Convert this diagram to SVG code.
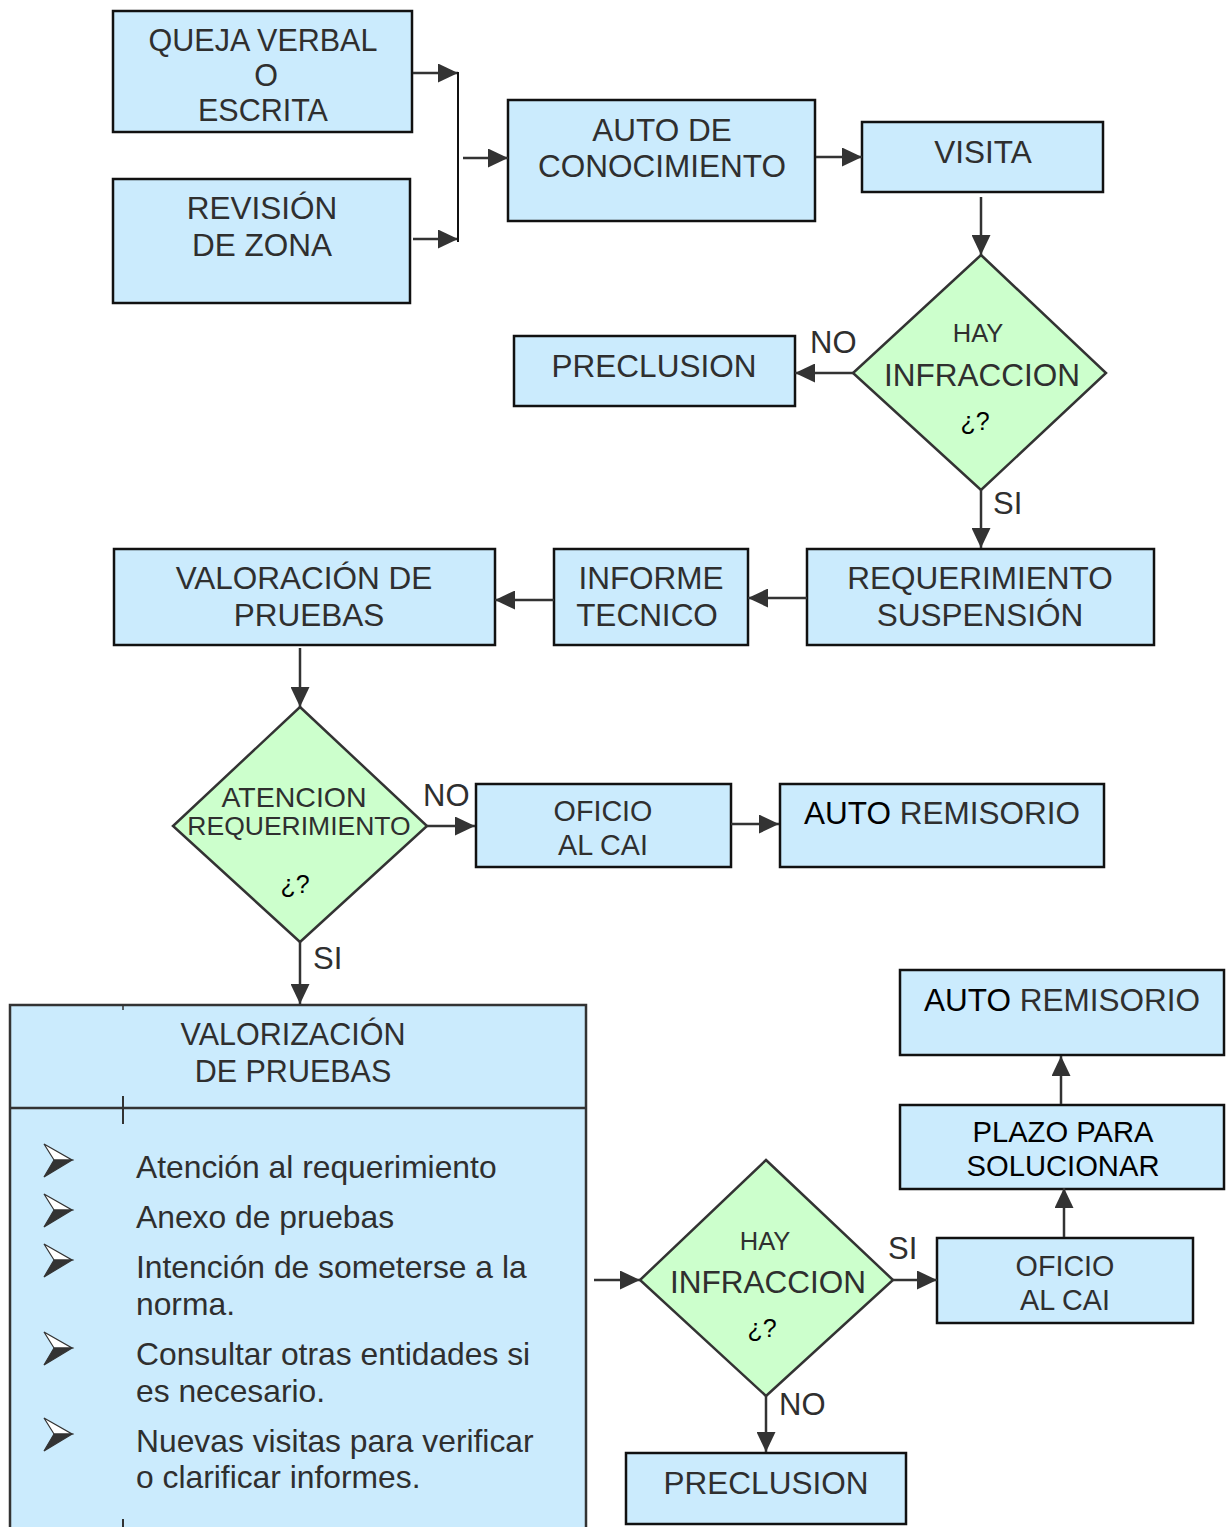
<svg xmlns="http://www.w3.org/2000/svg" width="1229" height="1527" viewBox="0 0 1229 1527">
<style>
.box{fill:#cbebfd;stroke:#111;stroke-width:2.5}
.big{fill:#cbebfd;stroke:#333;stroke-width:2.5}
.dia{fill:#ccffcc;stroke:#333;stroke-width:2.5}
.t{font-family:"Liberation Sans",Arial,sans-serif;fill:#2f2f2f;text-anchor:middle}
.l{font-family:"Liberation Sans",Arial,sans-serif;fill:#2f2f2f;font-size:31.8px}
.lbl{font-family:"Liberation Sans",Arial,sans-serif;fill:#2f2f2f;font-size:31px}
.k{fill:#000}
.c line,.c path{stroke:#333;stroke-width:2.5;fill:none}
</style>
<defs>
<marker id="ah" viewBox="0 0 20 19" refX="20" refY="9.5" markerWidth="20" markerHeight="19" markerUnits="userSpaceOnUse" orient="auto">
<path d="M0,0 L20,9.5 L0,19 z" fill="#333"/>
</marker>
<g id="bul">
<path d="M0,0 L28,16 L10,16 z" fill="#fff" stroke="#333" stroke-width="1.2"/>
<path d="M10,16 L28,16 L0,33 z" fill="#333" stroke="#333" stroke-width="1.2"/>
</g>
</defs>

<g id="n-queja">
<rect class="box" x="113" y="11" width="299" height="121"/>
<text class="t" font-size="30.5" x="263" y="51">QUEJA VERBAL</text>
<text class="t" font-size="30.5" x="266" y="86">O</text>
<text class="t" font-size="30.5" x="263" y="121">ESCRITA</text>
</g>
<g id="n-revision">
<rect class="box" x="113" y="179" width="297" height="124"/>
<text class="t" font-size="31.5" x="262" y="219">REVISIÓN</text>
<text class="t" font-size="31.5" x="262" y="256">DE ZONA</text>
</g>
<g id="n-auto-con">
<rect class="box" x="508" y="100" width="307" height="121"/>
<text class="t" font-size="31.5" x="662" y="141">AUTO DE</text>
<text class="t" font-size="31.5" x="662" y="177">CONOCIMIENTO</text>
</g>
<g id="n-visita">
<rect class="box" x="862" y="122" width="241" height="70"/>
<text class="t" font-size="31.5" x="983" y="163">VISITA</text>
</g>
<g id="n-hay1">
<polygon class="dia" points="981,255 1106,373 981,490 853,373"/>
<text class="t" font-size="25.5" x="978" y="342">HAY</text>
<text class="t" font-size="31.5" x="982" y="386">INFRACCION</text>
<text class="t k" font-size="25" x="975" y="430">¿?</text>
</g>
<g id="n-preclusion1">
<rect class="box" x="514" y="336" width="281" height="70"/>
<text class="t" font-size="31.5" x="654" y="377">PRECLUSION</text>
</g>
<g id="n-reqsusp">
<rect class="box" x="807" y="549" width="347" height="96"/>
<text class="t" font-size="31.5" x="980" y="589">REQUERIMIENTO</text>
<text class="t" font-size="31.5" x="980" y="626">SUSPENSIÓN</text>
</g>
<g id="n-informe">
<rect class="box" x="554" y="549" width="194" height="96"/>
<text class="t" font-size="31.5" x="651" y="589">INFORME</text>
<text class="t" font-size="31.5" x="647" y="626">TECNICO</text>
</g>
<g id="n-valoracion">
<rect class="box" x="114" y="549" width="381" height="96"/>
<text class="t" font-size="31.5" x="304" y="589">VALORACIÓN DE</text>
<text class="t" font-size="31.5" x="309" y="626">PRUEBAS</text>
</g>
<g id="n-atencion">
<polygon class="dia" points="300,707 427,826 300,942 173,826"/>
<text class="t" font-size="28.5" x="294" y="807">ATENCION</text>
<text class="t" font-size="26.5" x="299" y="835">REQUERIMIENTO</text>
<text class="t k" font-size="25" x="295" y="893">¿?</text>
</g>
<g id="n-oficio1">
<rect class="box" x="476" y="784" width="255" height="83"/>
<text class="t" font-size="28.7" x="603" y="821">OFICIO</text>
<text class="t" font-size="28.7" x="603" y="855">AL CAI</text>
</g>
<g id="n-remisorio1">
<rect class="box" x="780" y="784" width="324" height="83"/>
<text class="t" font-size="31.5" x="942" y="824"><tspan class="k">AUTO</tspan> REMISORIO</text>
</g>
<g id="n-valorizacion">
<rect class="big" x="10" y="1005" width="576" height="530"/>
<line x1="10" y1="1108" x2="586" y2="1108" stroke="#333" stroke-width="2.5"/>
<line x1="123" y1="1005" x2="123" y2="1010" stroke="#333" stroke-width="1.5"/>
<line x1="123" y1="1096" x2="123" y2="1124" stroke="#333" stroke-width="2"/>
<line x1="123" y1="1519" x2="123" y2="1527" stroke="#333" stroke-width="2"/>
<text class="t" font-size="30.5" x="293" y="1045">VALORIZACIÓN</text>
<text class="t" font-size="30.5" x="293" y="1082">DE PRUEBAS</text>
<use href="#bul" x="44" y="1144"/>
<use href="#bul" x="44" y="1194"/>
<use href="#bul" x="44" y="1244"/>
<use href="#bul" x="44" y="1332"/>
<use href="#bul" x="44" y="1418"/>
<text class="l" x="136" y="1178">Atención al requerimiento</text>
<text class="l" x="136" y="1228">Anexo de pruebas</text>
<text class="l" x="136" y="1278">Intención de someterse a la</text>
<text class="l" x="136" y="1315">norma.</text>
<text class="l" x="136" y="1365">Consultar otras entidades si</text>
<text class="l" x="136" y="1402">es necesario.</text>
<text class="l" x="136" y="1452">Nuevas visitas para verificar</text>
<text class="l" x="136" y="1488">o clarificar informes.</text>
</g>
<g id="n-hay2">
<polygon class="dia" points="766,1160 893,1280 766,1396 640,1280"/>
<text class="t" font-size="25.5" x="765" y="1250">HAY</text>
<text class="t" font-size="31.5" x="768" y="1293">INFRACCION</text>
<text class="t k" font-size="25" x="762" y="1337">¿?</text>
</g>
<g id="n-oficio2">
<rect class="box" x="937" y="1238" width="256" height="85"/>
<text class="t" font-size="28.7" x="1065" y="1276">OFICIO</text>
<text class="t" font-size="28.7" x="1065" y="1310">AL CAI</text>
</g>
<g id="n-plazo">
<rect class="box" x="900" y="1105" width="324" height="84"/>
<text class="t k" font-size="29.2" x="1063" y="1142">PLAZO PARA</text>
<text class="t k" font-size="29.2" x="1063" y="1176">SOLUCIONAR</text>
</g>
<g id="n-remisorio2">
<rect class="box" x="900" y="970" width="324" height="85"/>
<text class="t" font-size="31.5" x="1062" y="1011"><tspan class="k">AUTO</tspan> REMISORIO</text>
</g>
<g id="n-preclusion2">
<rect class="box" x="626" y="1453" width="280" height="71"/>
<text class="t" font-size="31.5" x="766" y="1494">PRECLUSION</text>
</g>

<g id="connectors" class="c">
<line x1="413" y1="73" x2="458" y2="73" marker-end="url(#ah)"/>
<line x1="413" y1="239" x2="458" y2="239" marker-end="url(#ah)"/>
<line x1="458" y1="72" x2="458" y2="242" style="stroke:#111;stroke-width:2"/>
<line x1="463" y1="158" x2="508" y2="158" marker-end="url(#ah)"/>
<line x1="816" y1="157" x2="862" y2="157" marker-end="url(#ah)"/>
<line x1="981" y1="197" x2="981" y2="255" marker-end="url(#ah)"/>
<line x1="853" y1="373" x2="795" y2="373" marker-end="url(#ah)"/>
<line x1="981" y1="490" x2="981" y2="548" marker-end="url(#ah)"/>
<line x1="807" y1="598" x2="748" y2="598" marker-end="url(#ah)"/>
<line x1="554" y1="600" x2="495" y2="600" marker-end="url(#ah)"/>
<line x1="300" y1="648" x2="300" y2="707" marker-end="url(#ah)"/>
<line x1="427" y1="826" x2="475" y2="826" marker-end="url(#ah)"/>
<line x1="731" y1="824" x2="779" y2="824" marker-end="url(#ah)"/>
<line x1="300" y1="942" x2="300" y2="1004" marker-end="url(#ah)"/>
<line x1="594" y1="1280" x2="640" y2="1280" marker-end="url(#ah)"/>
<line x1="893" y1="1280" x2="937" y2="1280" marker-end="url(#ah)"/>
<line x1="1064" y1="1237" x2="1064" y2="1188" marker-end="url(#ah)"/>
<line x1="1061" y1="1104" x2="1061" y2="1056" marker-end="url(#ah)"/>
<line x1="766" y1="1396" x2="766" y2="1452" marker-end="url(#ah)"/>
</g>
<g id="labels">
<text class="lbl" x="810" y="353">NO</text>
<text class="lbl" x="993" y="514">SI</text>
<text class="lbl" x="423" y="806">NO</text>
<text class="lbl" x="313" y="969">SI</text>
<text class="lbl" x="888" y="1259">SI</text>
<text class="lbl" x="779" y="1415">NO</text>
</g>
</svg>
